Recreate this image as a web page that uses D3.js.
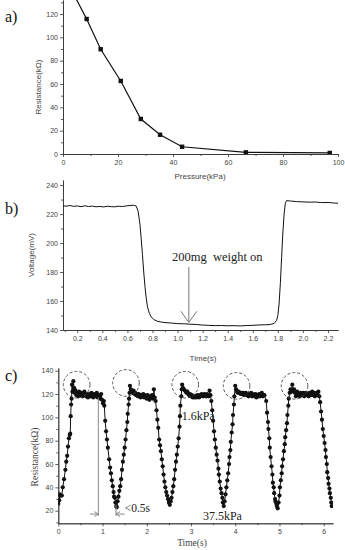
<!DOCTYPE html>
<html>
<head>
<meta charset="utf-8">
<script src="https://cdn.jsdelivr.net/npm/d3@7"></script>
<style>
  body { margin: 0; background: #fff; }
  svg { display: block; }
  .axis path, .axis line { stroke: #333; stroke-width: 0.8; }
  .axis text { fill: #444; font-family: "Liberation Sans", Arial, sans-serif; font-size: 7px; }
  .sans { font-family: "Liberation Sans", Arial, sans-serif; fill: #444; font-size: 8px; }
  .serif { font-family: "Liberation Serif", "Times New Roman", serif; fill: #222; }
</style>
</head>
<body>
<div id="chart"></div>
<script>
// a) resistance vs pressure
var pressureA = [3, 8.6, 13.7, 21, 28.3, 35.3, 43.3, 66.5, 97];
var resistA   = [141, 115.7, 89.8, 62.6, 30, 16.5, 6.2, 1.4, 0.9];
var ticksAx = [0, 20, 40, 60, 80, 100];
var ticksAy = [0, 20, 40, 60, 80, 100, 120];

// b) voltage trace [time s, mV]
var traceB = [
  [0.086,225.8],[0.11,225.4],[0.14,225.9],[0.17,225.3],[0.20,225.6],[0.23,225.1],[0.26,225.7],
  [0.29,225.2],[0.32,225.5],[0.35,225.0],[0.38,225.3],[0.41,224.9],[0.44,225.4],[0.47,225.1],
  [0.50,225.0],[0.53,225.4],[0.56,225.2],[0.59,225.6],[0.62,225.9],[0.65,226.1],[0.67,225.5],
  [0.685,222],[0.70,213],[0.71,203],[0.72,192],[0.73,180],[0.74,170],[0.75,162],[0.76,156],
  [0.775,151.5],[0.79,149],[0.81,147.2],[0.84,146],[0.87,145.5],[0.90,145.1],[0.95,144.8],
  [1.00,144.4],[1.05,144.3],[1.10,144.0],[1.15,143.8],[1.20,143.4],[1.25,143.2],[1.30,143.0],
  [1.35,143.1],[1.40,142.9],[1.45,143.0],[1.50,142.8],[1.55,143.1],[1.60,143.2],[1.65,143.5],
  [1.70,143.6],[1.74,143.8],[1.77,144.5],[1.79,146.5],[1.80,150],[1.81,158],[1.82,172],
  [1.83,190],[1.84,207],[1.85,220],[1.86,227.5],[1.87,229.3],[1.90,229.0],[1.95,228.6],
  [2.00,228.4],[2.05,228.2],[2.10,228.3],[2.15,227.9],[2.20,228.0],[2.25,227.6],[2.28,227.5]
];
var ticksBx = [0.2, 0.4, 0.6, 0.8, 1.0, 1.2, 1.4, 1.6, 1.8, 2.0, 2.2];
var ticksBy = [140, 160, 180, 200, 220, 240];

// c) resistance cycling [time s, kOhm]
var cycle1 = [
  [0.00,26],[0.02,29],[0.03,34],[0.05,33],[0.08,33],[0.10,40],[0.13,47],[0.16,55],[0.18,62],
  [0.20,67],[0.22,75],[0.24,82],[0.26,85],[0.27,86],[0.28,101],[0.29,111],[0.30,116],[0.31,128],
  [0.32,122],[0.34,131],[0.36,125],[0.37,121],[0.39,123],[0.41,119],[0.43,121],[0.45,118],
  [0.47,122],[0.49,120],[0.51,119],[0.53,121],[0.55,118],[0.57,120],[0.59,122],[0.61,119],
  [0.63,118],[0.65,120],[0.67,117],[0.69,119],[0.71,120],[0.73,118],[0.75,121],[0.77,119],
  [0.79,117],[0.81,120],[0.83,118],[0.85,119],[0.87,121],[0.89,117],[0.91,119],[0.93,118],
  [0.95,116],[0.97,120],[0.99,115],[1.01,112],[1.03,114]
];
var cycle2 = [
  [1.04,110],[1.06,97],[1.08,88],[1.10,81],[1.12,74],[1.15,64],[1.17,57],[1.19,52],[1.21,46],
  [1.23,41],[1.25,36],[1.26,32],[1.28,31],[1.29,27],[1.31,24],[1.32,23],[1.34,28],[1.36,32],
  [1.38,37],[1.40,41],[1.42,47],[1.44,55],[1.46,62],[1.48,68],[1.50,74],[1.52,81],[1.54,89],
  [1.56,96],[1.57,103],[1.59,111],[1.60,116],[1.61,121],[1.62,127],[1.64,124],[1.66,122],
  [1.68,121],[1.70,123],[1.72,120],[1.74,121],[1.76,119],[1.78,120],[1.80,118],[1.82,120],
  [1.84,119],[1.86,117],[1.88,119],[1.90,118],[1.92,120],[1.94,117],[1.96,119],[1.98,118],
  [2.00,116],[2.02,119],[2.04,117],[2.06,115],[2.08,118],[2.10,117],[2.12,119],[2.14,116],
  [2.16,124],[2.18,117],[2.20,114]
];
var cycle3 = [
  [2.22,106],[2.24,98],[2.26,91],[2.28,81],[2.30,76],[2.32,71],[2.34,64],[2.36,58],[2.38,51],
  [2.40,45],[2.42,40],[2.44,36],[2.46,33],[2.48,30],[2.50,27],[2.52,25],[2.54,28],[2.56,31],
  [2.58,36],[2.60,41],[2.62,47],[2.64,55],[2.66,62],[2.68,68],[2.70,75],[2.72,82],[2.74,92],
  [2.75,101],[2.76,110],[2.78,118],[2.79,124],[2.80,128],[2.82,125],[2.84,124],[2.86,123],
  [2.88,122],[2.90,121],[2.92,122],[2.94,120],[2.96,119],[2.98,120],[3.00,118],[3.02,119],
  [3.04,117],[3.06,118],[3.08,117],[3.10,118],[3.12,117],[3.14,119],[3.16,118],[3.18,117],
  [3.20,119],[3.22,118],[3.24,120],[3.26,119],[3.28,118],[3.30,120],[3.32,119],[3.34,118],
  [3.36,120],[3.38,119],[3.40,118],[3.42,123],[3.44,119]
];
var cycle4 = [
  [3.46,114],[3.48,106],[3.50,97],[3.52,88],[3.54,81],[3.56,74],[3.58,68],[3.60,63],[3.62,56],
  [3.63,51],[3.65,45],[3.67,39],[3.69,35],[3.71,31],[3.72,27],[3.74,24],[3.76,28],[3.78,34],
  [3.80,40],[3.82,46],[3.84,52],[3.86,60],[3.87,66],[3.89,72],[3.90,79],[3.92,87],[3.94,94],
  [3.95,102],[3.97,111],[3.98,118],[4.00,127],[4.02,124],[4.04,122],[4.06,121],[4.08,122],
  [4.10,121],[4.12,120],[4.14,121],[4.16,120],[4.18,121],[4.20,119],[4.22,120],[4.24,121],
  [4.26,119],[4.28,120],[4.30,118],[4.32,120],[4.34,119],[4.36,121],[4.38,118],[4.40,120],
  [4.42,119],[4.44,118],[4.46,120],[4.48,117],[4.50,119],[4.52,118],[4.54,120],[4.56,118],
  [4.58,119],[4.60,121],[4.62,118],[4.64,119],[4.66,119]
];
var cycle5 = [
  [4.70,114],[4.72,104],[4.74,96],[4.75,90],[4.77,82],[4.78,74],[4.80,66],[4.82,58],[4.84,51],
  [4.85,44],[4.87,40],[4.88,35],[4.90,30],[4.91,28],[4.93,26],[4.94,24],[4.96,22],[4.98,27],
  [5.00,33],[5.01,40],[5.03,46],[5.05,52],[5.06,58],[5.08,64],[5.10,71],[5.12,77],[5.13,83],
  [5.15,89],[5.17,95],[5.18,102],[5.20,110],[5.21,116],[5.23,121],[5.25,124],[5.27,122],
  [5.29,128],[5.31,123],[5.33,124],[5.35,121],[5.37,118],[5.40,122],[5.42,119],[5.44,120],
  [5.46,118],[5.48,121],[5.50,120],[5.52,119],[5.54,121],[5.56,118],[5.58,120],[5.60,121],
  [5.62,119],[5.64,120],[5.66,118],[5.68,121],[5.70,119],[5.72,120],[5.74,122],[5.76,119],
  [5.78,121],[5.80,118],[5.82,120],[5.84,121],[5.86,119],[5.88,122],[5.90,118],
  [5.92,113],[5.94,105],[5.96,98],[5.98,90],[6.00,84],[6.02,78],[6.04,72],[6.05,66],[6.07,60],
  [6.08,53],[6.10,48],[6.11,43],[6.13,39],[6.14,35],[6.16,31],[6.17,27],[6.18,24]
];
var peakCircles = [[0.415,128],[1.53,129.5],[2.87,128],[4.03,127],[5.34,127]];
var ticksCx = [0, 1, 2, 3, 4, 5, 6];
var ticksCy = [20, 40, 60, 80, 100, 120, 140];

var W = 345, H = 550;
var svg = d3.select("#chart").append("svg").attr("width", W).attr("height", H);

function panel(id, box, xDom, yDom, xMajor, yMajor, xMinor, yMinor, fmt) {
  var x = d3.scaleLinear().domain(xDom).range([box.left, box.right]);
  var y = d3.scaleLinear().domain(yDom).range([box.bottom, box.top]);

  svg.append("g").attr("class", "axis")
      .attr("transform", "translate(0," + box.bottom + ")")
      .call(d3.axisBottom(x).tickValues(xMinor).tickSize(2).tickSizeOuter(0).tickFormat(""));
  svg.append("g").attr("class", "axis")
      .attr("transform", "translate(0," + box.bottom + ")")
      .call(d3.axisBottom(x).tickValues(xMajor).tickSize(3).tickPadding(3).tickSizeOuter(0).tickFormat(fmt));
  svg.append("g").attr("class", "axis")
      .attr("transform", "translate(" + box.left + ",0)")
      .call(d3.axisLeft(y).tickValues(yMinor).tickSize(2).tickSizeOuter(0).tickFormat(""));
  svg.append("g").attr("class", "axis")
      .attr("transform", "translate(" + box.left + ",0)")
      .call(d3.axisLeft(y).tickValues(yMajor).tickSize(3).tickPadding(2).tickSizeOuter(0).tickFormat(d3.format("d")));

  svg.append("clipPath").attr("id", id)
    .append("rect")
      .attr("x", box.left).attr("y", box.top)
      .attr("width", box.right - box.left).attr("height", box.bottom - box.top);

  var plot = svg.append("g").attr("clip-path", "url(#" + id + ")");
  return {x: x, y: y, plot: plot};
}

function range(a, b, s) {
  return d3.range(a, b + s / 2, s).map(function(v) { return +v.toFixed(3); });
}

// ---------- a)
var A = panel("clipA", {left: 63, right: 338, top: 0, bottom: 154}, [0, 100], [0, 132],
  ticksAx, ticksAy, range(10, 90, 20), range(10, 130, 20), d3.format("d"));

var ptsA = pressureA.map(function(p, i) { return [p, resistA[i]]; });
A.plot.append("path")
  .datum(ptsA)
  .attr("fill", "none").attr("stroke", "#111").attr("stroke-width", 1.2)
  .attr("d", d3.line().x(function(d) { return A.x(d[0]); }).y(function(d) { return A.y(d[1]); }));
A.plot.selectAll("rect.pt").data(ptsA).enter().append("rect")
  .attr("class", "pt")
  .attr("x", function(d) { return A.x(d[0]) - 2.2; })
  .attr("y", function(d) { return A.y(d[1]) - 2.2; })
  .attr("width", 4.4).attr("height", 4.4)
  .attr("fill", "#111");

svg.append("text").attr("class", "sans").attr("x", 200).attr("y", 179)
  .attr("text-anchor", "middle").text("Pressure(kPa)");
svg.append("text").attr("class", "sans")
  .attr("transform", "translate(41,87) rotate(-90)")
  .attr("text-anchor", "middle").text("Resistance(kΩ)");
svg.append("text").attr("class", "serif").attr("x", 5).attr("y", 22)
  .style("font-size", "16px").style("fill", "#111").text("a)");

// ---------- b)
var B = panel("clipB", {left: 63, right: 338, top: 180, bottom: 330}, [0.086, 2.28], [140, 243.5],
  ticksBx, ticksBy, range(0.1, 2.1, 0.2), range(150, 230, 20), d3.format(".1f"));

B.plot.append("path")
  .datum(traceB)
  .attr("fill", "none").attr("stroke", "#111").attr("stroke-width", 1)
  .attr("d", d3.line().x(function(d) { return B.x(d[0]); }).y(function(d) { return B.y(d[1]); }));

// arrow "200mg weight on"
var arrowT = 1.09, arrowTop = 183.5, arrowTip = 145.3;
var ax = B.x(arrowT), ay = B.y(arrowTip);
svg.append("line")
  .attr("x1", ax).attr("x2", ax).attr("y1", B.y(arrowTop)).attr("y2", ay)
  .attr("stroke", "#777").attr("stroke-width", 1);
svg.append("path")
  .attr("d", "M" + (ax - 8) + "," + (ay - 11) + "L" + ax + "," + ay + "L" + (ax + 8) + "," + (ay - 11))
  .attr("fill", "none").attr("stroke", "#777").attr("stroke-width", 1);
svg.append("text").attr("class", "serif")
  .attr("x", B.x(0.955)).attr("y", B.y(187.6))
  .style("font-size", "12.5px").style("white-space", "pre").text("200mg  weight on");

svg.append("text").attr("class", "sans").attr("x", 203).attr("y", 361)
  .attr("text-anchor", "middle").text("Time(s)");
svg.append("text").attr("class", "sans")
  .attr("transform", "translate(34,255) rotate(-90)")
  .attr("text-anchor", "middle").text("Voltage(mV)");
svg.append("text").attr("class", "serif").attr("x", 5).attr("y", 214)
  .style("font-size", "16px").style("fill", "#111").text("b)");

// ---------- c)
var C = panel("clipC", {left: 58.3, right: 333, top: 368, bottom: 523.3}, [0, 6.21], [9.2, 142.3],
  ticksCx, ticksCy, range(0.5, 5.5, 1), range(10, 130, 20), d3.format("d"));

var traceC = cycle1.concat(cycle2, cycle3, cycle4, cycle5);
C.plot.append("path")
  .datum(traceC)
  .attr("fill", "none").attr("stroke", "#111").attr("stroke-width", 1)
  .attr("d", d3.line().x(function(d) { return C.x(d[0]); }).y(function(d) { return C.y(d[1]); }));
C.plot.selectAll("circle.pt").data(traceC).enter().append("circle")
  .attr("class", "pt")
  .attr("cx", function(d) { return C.x(d[0]); })
  .attr("cy", function(d) { return C.y(d[1]); })
  .attr("r", 2.1)
  .attr("fill", "#111");

svg.selectAll("circle.peak").data(peakCircles).enter().append("circle")
  .attr("class", "peak")
  .attr("cx", function(d) { return C.x(d[0]); })
  .attr("cy", function(d) { return C.y(d[1]); })
  .attr("r", 13.3)
  .attr("fill", "none").attr("stroke", "#444").attr("stroke-width", 0.9)
  .attr("stroke-dasharray", "3,2");

// response time marks
var markT1 = 0.905, markT2 = 1.305, markV = 17.1;
var gray = "#888";
svg.append("line").attr("x1", C.x(markT1)).attr("x2", C.x(markT1))
  .attr("y1", C.y(117)).attr("y2", C.y(15.5)).attr("stroke", gray).attr("stroke-width", 1);
svg.append("line").attr("x1", C.x(markT2)).attr("x2", C.x(markT2))
  .attr("y1", C.y(25)).attr("y2", C.y(15.5)).attr("stroke", gray).attr("stroke-width", 1);
svg.append("line").attr("x1", C.x(0.715)).attr("x2", C.x(markT1))
  .attr("y1", C.y(markV)).attr("y2", C.y(markV)).attr("stroke", gray).attr("stroke-width", 1);
svg.append("path")
  .attr("d", "M" + (C.x(markT1) - 4) + "," + (C.y(markV) - 2.5) + "L" + C.x(markT1) + "," + C.y(markV) +
             "L" + (C.x(markT1) - 4) + "," + (C.y(markV) + 2.5))
  .attr("fill", "none").attr("stroke", gray);
svg.append("line").attr("x1", C.x(1.5)).attr("x2", C.x(markT2))
  .attr("y1", C.y(markV)).attr("y2", C.y(markV)).attr("stroke", gray).attr("stroke-width", 1);
svg.append("path")
  .attr("d", "M" + (C.x(markT2) + 4) + "," + (C.y(markV) - 2.5) + "L" + C.x(markT2) + "," + C.y(markV) +
             "L" + (C.x(markT2) + 4) + "," + (C.y(markV) + 2.5))
  .attr("fill", "none").attr("stroke", gray);

svg.append("text").attr("class", "serif").attr("x", C.x(1.5)).attr("y", C.y(19.1))
  .style("font-size", "11.5px").text("<0.5s");
svg.append("text").attr("class", "serif").attr("x", C.x(2.79)).attr("y", C.y(98))
  .style("font-size", "12px").text("1.6kPa");
svg.append("text").attr("class", "serif").attr("x", C.x(3.27)).attr("y", C.y(12))
  .style("font-size", "12px").text("37.5kPa");

svg.append("text").attr("class", "serif").attr("x", 192).attr("y", 546)
  .attr("text-anchor", "middle").style("font-size", "9.5px").style("fill", "#444").text("Time(s)");
svg.append("text").attr("class", "serif")
  .attr("transform", "translate(38,457) rotate(-90)")
  .attr("text-anchor", "middle").style("font-size", "9.5px").style("fill", "#444").text("Resistance(kΩ)");
svg.append("text").attr("class", "serif").attr("x", 5).attr("y", 381)
  .style("font-size", "16px").style("fill", "#111").text("c)");
</script>
</body>
</html>
